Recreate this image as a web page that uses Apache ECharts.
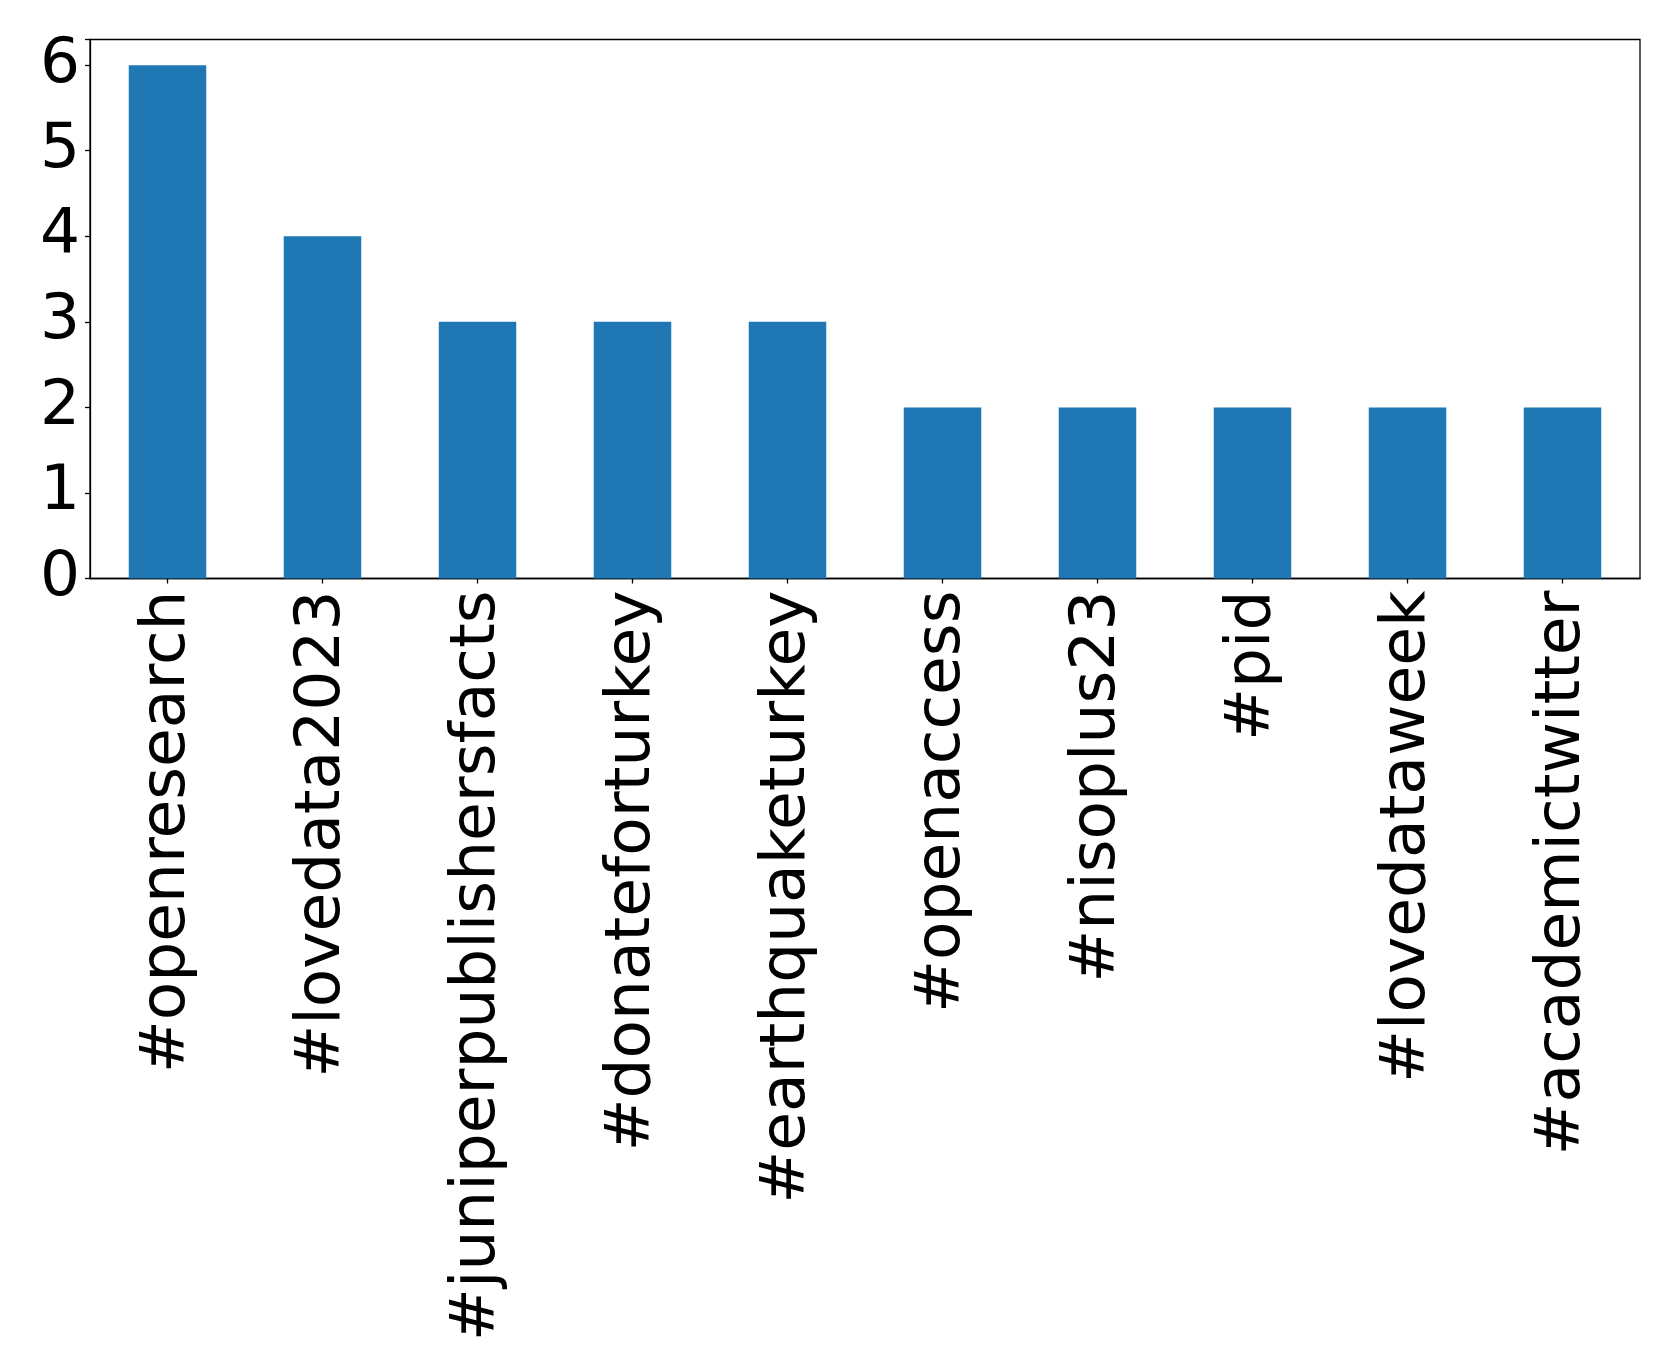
<!DOCTYPE html>
<html>
<head>
<meta charset="utf-8">
<script src="https://cdn.jsdelivr.net/npm/echarts@6/dist/echarts.min.js"></script>
<style>html,body{margin:0;padding:0;background:#fff}#c{width:1679px;height:1372px}</style>
</head>
<body>
<div id="c"></div>
<script>
const categories = ['#openresearch','#lovedata2023','#juniperpublishersfacts','#donateforturkey','#earthquaketurkey','#openaccess','#nisoplus23','#pid','#lovedataweek','#academictwitter'];
const counts = [6,4,3,3,3,2,2,2,2,2];
const yTicks = [0,1,2,3,4,5,6];

const chart = echarts.init(document.getElementById('c'), null, {renderer:'canvas'});
const font = 'DejaVu Sans';
chart.setOption({
  animation:false,
  grid:{left:90,top:39.5,width:1550,height:539,show:true,borderColor:'#000',borderWidth:1.3,containLabel:false},
  xAxis:{
    type:'category',data:categories,
    axisLine:{show:true,lineStyle:{color:'#000',width:1.3}},
    axisTick:{show:true,alignWithLabel:true,length:5,lineStyle:{color:'#000',width:1.3}},
    axisLabel:{rotate:90,fontFamily:font,fontSize:63,color:'#000',margin:12,interval:0,padding:[24,0,0,0]}
  },
  yAxis:{
    type:'value',min:0,max:6.3,interval:1,
    splitLine:{show:false},
    axisLine:{show:true,lineStyle:{color:'#000',width:1.3}},
    axisTick:{show:true,length:5,lineStyle:{color:'#000',width:1.3}},
    axisLabel:{fontFamily:font,fontSize:63,color:'#000',margin:10,
      formatter:v=> yTicks.includes(v)?String(v):''}
  },
  series:[{type:'bar',data:counts,barWidth:'50%',itemStyle:{color:'#1f77b4'}}]
});
</script>
</body>
</html>
